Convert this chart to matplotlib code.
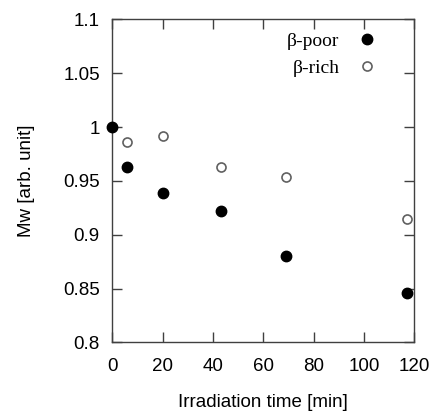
import numpy as np
import matplotlib
matplotlib.use("Agg")
import matplotlib.pyplot as plt
from matplotlib.ticker import FuncFormatter

# data
time_poor = [0, 6, 20, 43, 69, 117]
mw_poor = [1.0, 0.963, 0.939, 0.922, 0.880, 0.846]

time_rich = [6, 20, 43, 69, 117]
mw_rich = [0.986, 0.992, 0.963, 0.954, 0.915]

x_ticks = [0, 20, 40, 60, 80, 100, 120]
y_ticks = [0.8, 0.85, 0.9, 0.95, 1.0, 1.05, 1.1]

plt.rcParams["font.family"] = ["Liberation Sans", "DejaVu Sans"]

fig = plt.figure(figsize=(4.37, 4.12), dpi=100)
ax = fig.add_axes([0.257, 0.169, 0.691, 0.784])

ax.plot(time_poor, mw_poor, ls="none", marker="o", ms=7.5, mfc="black",
        mec="black", label="β-poor", clip_on=False, zorder=5)
ax.plot(time_rich, mw_rich, ls="none", marker="o", ms=6.5, mfc="white",
        mec="#606060", mew=1.2, label="β-rich", clip_on=False, zorder=5)

ax.set_xlim(0, 120)
ax.set_ylim(0.8, 1.1)
ax.set_xticks(x_ticks)
ax.set_yticks(y_ticks)
ax.yaxis.set_major_formatter(FuncFormatter(lambda v, p: f"{v:g}"))

ax.tick_params(direction="in", length=7.5, width=1, color="#404040",
               top=True, right=True, labelsize=13.5, pad=9)
ax.tick_params(axis="x", pad=11)
for s in ax.spines.values():
    s.set_color("#404040")
    s.set_linewidth(1)

ax.set_xlabel("Irradiation time [min]", fontsize=13.5, labelpad=14)
ax.set_ylabel("Mw [arb. unit]", fontsize=13.5, labelpad=20)

ax.legend(loc="upper right", bbox_to_anchor=(0.965, 1.015), frameon=False,
          markerfirst=False, handletextpad=0.4, labelspacing=0.5,
          prop={"family": "Liberation Serif", "size": 14})

fig.savefig("out.png", dpi=100)
